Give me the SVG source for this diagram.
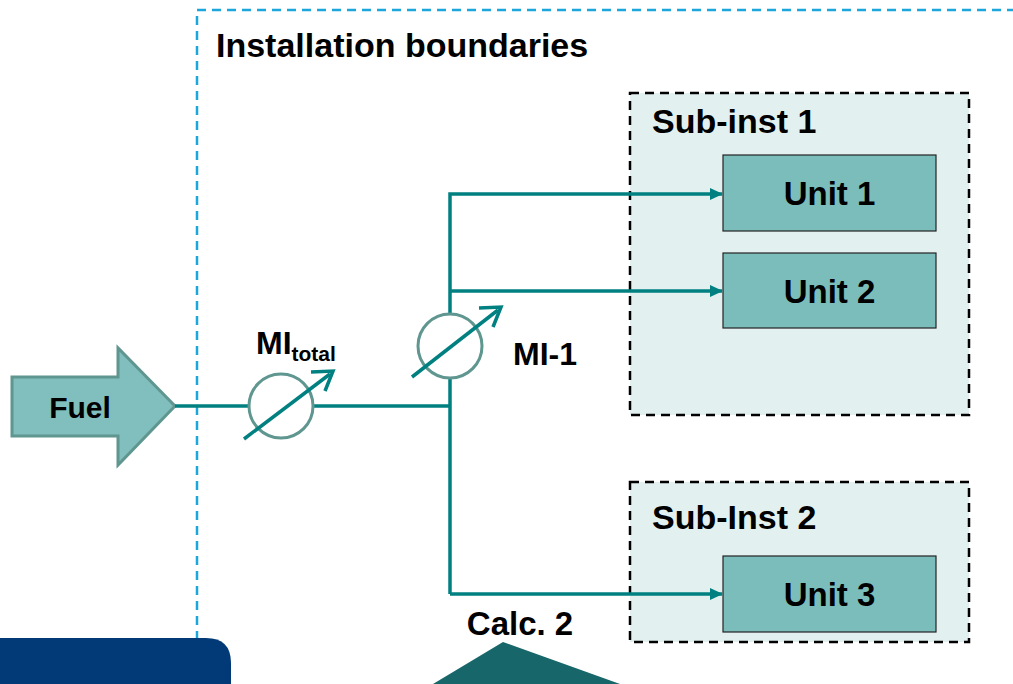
<svg xmlns="http://www.w3.org/2000/svg" width="1013" height="684" viewBox="0 0 1013 684">
<style>
.t{font-family:"Liberation Sans",Arial,sans-serif;font-weight:bold;fill:#000}
.sub{fill:#e3f0f0;stroke:#000;stroke-width:2.5;stroke-dasharray:9,6}
.unit{fill:#7bbdba;stroke:#222;stroke-width:1.2}
.flow{fill:none;stroke:#008080;stroke-width:3.5}
</style>
<defs>
<marker id="ah" markerWidth="13" markerHeight="13" refX="12" refY="6.5" orient="auto" markerUnits="userSpaceOnUse" viewBox="0 0 13 13">
<path d="M0,0.5 L13,6.5 L0,12.5 z" fill="#008080"/>
</marker>
</defs>
<rect width="1013" height="684" fill="#fff"/>
<g id="boundary">
<path d="M197,700 L197,10 L1020,10" fill="none" stroke="#1ba6dc" stroke-width="2.5" stroke-dasharray="9,6"/>
<text class="t" x="216" y="57" font-size="34">Installation boundaries</text>
</g>
<g id="sub-inst-1">
<rect class="sub" x="630" y="93" width="339" height="322"/>
<text class="t" x="652" y="133" font-size="34">Sub-inst 1</text>
</g>
<g id="sub-inst-2">
<rect class="sub" x="630" y="482" width="339" height="160"/>
<text class="t" x="652" y="529" font-size="34">Sub-Inst 2</text>
</g>
<g id="unit-1">
<rect class="unit" x="723" y="155" width="213" height="76"/>
<text class="t" x="829.5" y="205" font-size="33" text-anchor="middle">Unit 1</text>
</g>
<g id="unit-2">
<rect class="unit" x="723" y="253" width="213" height="75"/>
<text class="t" x="829.5" y="303" font-size="33" text-anchor="middle">Unit 2</text>
</g>
<g id="unit-3">
<rect class="unit" x="723" y="556" width="213" height="76"/>
<text class="t" x="829.5" y="606" font-size="33" text-anchor="middle">Unit 3</text>
</g>
<g id="fuel">
<path d="M12,377 L118,377 L118,348 L175,406 L118,465 L118,436 L12,436 Z" fill="#80bfbd" stroke="#5f9690" stroke-width="3"/>
<text class="t" x="80" y="418" font-size="30" text-anchor="middle">Fuel</text>
</g>
<g id="connectors">
<path class="flow" d="M175,406 L450,406"/>
<path class="flow" d="M450,594 L450,194 L722,194" marker-end="url(#ah)"/>
<path class="flow" d="M450,291 L722,291" marker-end="url(#ah)"/>
<path class="flow" d="M450,594 L722,594" marker-end="url(#ah)"/>
</g>
<g id="mi-total">
<circle cx="281" cy="406" r="32" fill="#fff" stroke="#5f9690" stroke-width="3"/>
<path d="M244,439 L330,374" stroke="#008080" stroke-width="3.5" fill="none"/>
<path d="M311,372 L333,371 L325,391" stroke="#008080" stroke-width="3.5" fill="none"/>
<text class="t" x="256" y="354" font-size="32">MI<tspan font-size="21" dy="7">total</tspan></text>
</g>
<g id="mi-1">
<circle cx="450" cy="346" r="32" fill="#fff" stroke="#5f9690" stroke-width="3"/>
<path d="M412,377 L498,310" stroke="#008080" stroke-width="3.5" fill="none"/>
<path d="M479,308 L501,307 L493,327" stroke="#008080" stroke-width="3.5" fill="none"/>
<text class="t" x="513" y="365" font-size="32">MI-1</text>
</g>
<g id="calc-2">
<text class="t" x="520" y="635" font-size="33" text-anchor="middle">Calc. 2</text>
<path d="M503,642 L433,684 L620,684 Z" fill="#17676a"/>
</g>
<g id="footer-bar">
<path d="M0,638 L206,638 Q231,638 231,663 L231,684 L0,684 Z" fill="#023a78"/>
</g>
</svg>
